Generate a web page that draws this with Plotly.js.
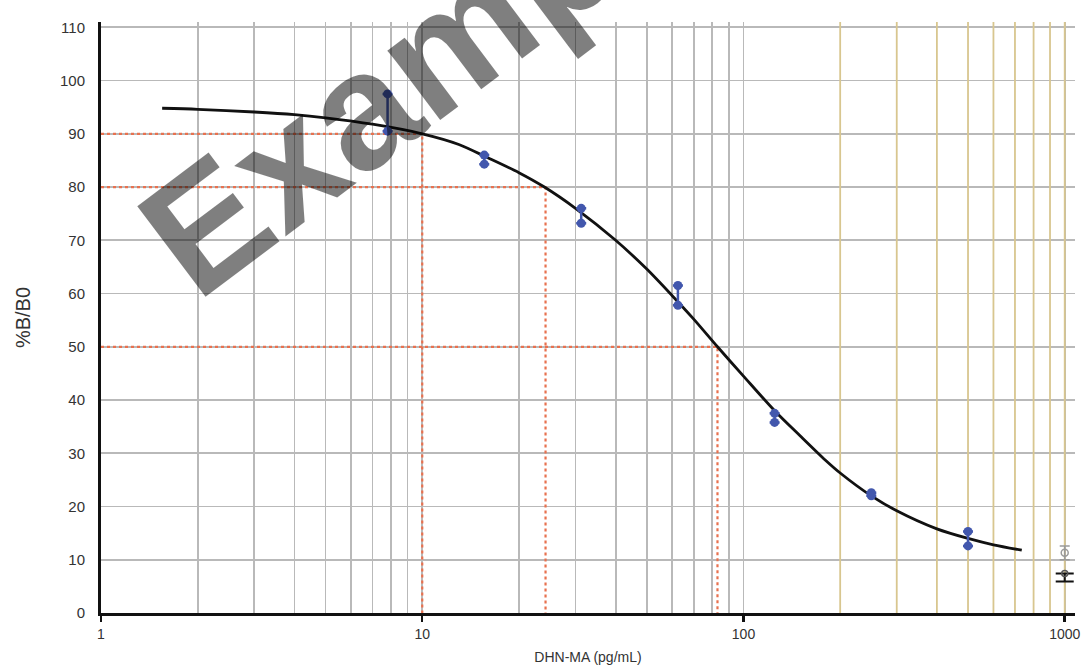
<!DOCTYPE html>
<html>
<head>
<meta charset="utf-8">
<script src="https://cdn.plot.ly/plotly-3.0.1.min.js"></script>
<style>html,body{margin:0;padding:0;background:#fff;}#chart{width:1091px;height:670px;}</style>
</head>
<body>
<div id="chart"></div>
<script>
// Standards (pg/mL) and replicate %B/B0 readings
const conc = [7.8, 15.6, 31.25, 62.5, 125, 250, 500];
const rep1 = [97.5, 86, 76, 61.5, 37.5, 22.6, 15.3];
const rep2 = [90.5, 84.3, 73.2, 57.8, 35.8, 22.0, 12.6];

// Fitted curve
const curveX = [1.55, 2, 3, 4, 5, 7, 10, 13, 16, 20, 24, 30, 40, 50, 60, 70, 83, 100, 125, 150, 180, 200, 250, 300, 400, 500, 600, 735];
const curveY = [94.8, 94.6, 94.1, 93.6, 93.0, 91.8, 90.0, 88.0, 85.5, 82.7, 80.0, 76.0, 70.0, 64.6, 59.6, 55.2, 50.0, 44.5, 38.0, 33.3, 28.7, 26.3, 22.0, 19.2, 15.8, 14.0, 12.8, 11.8];

// Reference levels (%B/B0) and their read concentrations
const refLevels = [90, 80, 50];
const refConc = [10, 24.2, 83];

// NSB / blank markers at the right edge
const nsbX = [1000];
const nsbGrayY = [11.3];
const nsbBlackY = [7.4];

// Axis ticks
const xTicks = [1, 10, 100, 1000];
const xTickText = ['1', '10', '100', '1000'];
const yTicks = [0, 10, 20, 30, 40, 50, 60, 70, 80, 90, 100, 110];

// grid positions
const decades = [1, 10, 100];
const minorGray = [];
const minorTan = [];
decades.forEach(d => { for (let k = 2; k <= 9; k++) { (d === 100 ? minorTan : minorGray).push(k * d); } });
minorTan.push(1000);

const traces = [];

// tan vertical grid for the upper decade
const tanX = [], tanY = [];
minorTan.forEach(v => { tanX.push(v, v, null); tanY.push(0, 111, null); });
traces.push({x: tanX, y: tanY, mode: 'lines', line: {color: '#d8c68f', width: 1.8}, hoverinfo: 'skip', showlegend: false});

// red dashed reference lines
refLevels.forEach((lv, i) => {
  traces.push({x: [1, refConc[i], refConc[i]], y: [lv, lv, 0], mode: 'lines',
    line: {color: '#e8714f', width: 2.2, dash: 'dot'}, hoverinfo: 'skip', showlegend: false});
});

// fitted curve
traces.push({x: curveX, y: curveY, mode: 'lines', line: {color: '#111111', width: 2.8, shape: 'spline', smoothing: 0.8}, showlegend: false});

// error bars (range of replicates)
const meanY = conc.map((c, i) => (rep1[i] + rep2[i]) / 2);
const halfR = conc.map((c, i) => Math.abs(rep1[i] - rep2[i]) / 2);
traces.push({x: conc, y: meanY, mode: 'markers', marker: {size: 1, color: 'rgba(0,0,0,0)'},
  error_y: {type: 'data', array: halfR, visible: true, color: '#4257ad', thickness: 2.5, width: 5}, showlegend: false});

// replicate points
[rep1, rep2].forEach(r => {
  traces.push({x: conc, y: r, mode: 'markers', marker: {size: 9, color: '#4257ad'}, showlegend: false});
});

// NSB markers
traces.push({x: nsbX, y: nsbGrayY, mode: 'markers',
  marker: {size: 7, symbol: 'circle-open', color: '#9a9a9a', line: {width: 1.5}},
  error_y: {type: 'data', array: [1.3], visible: true, color: '#9a9a9a', thickness: 1.5, width: 5}, showlegend: false});
traces.push({x: nsbX, y: nsbBlackY, mode: 'markers',
  marker: {size: 6, symbol: 'circle-open', color: '#555555', line: {width: 1.5}},
  error_y: {type: 'data', symmetric: false, array: [0], arrayminus: [1.5], visible: true, color: '#111111', thickness: 2, width: 9}, showlegend: false});

const fontFam = 'Liberation Sans, Arial, sans-serif';

const layout = {
  width: 1091, height: 670,
  margin: {l: 101, r: 16, t: 22, b: 57},
  paper_bgcolor: '#ffffff', plot_bgcolor: '#ffffff',
  showlegend: false,
  font: {family: fontFam, color: '#333333'},
  xaxis: {
    type: 'log', range: [0, 3.032],
    tickvals: xTicks, ticktext: xTickText,
    ticks: 'outside', ticklen: 6, tickwidth: 2.5, tickcolor: '#111',
    tickfont: {size: 14, color: '#333333', family: fontFam},
    showgrid: true, gridcolor: '#b9b9b9', gridwidth: 1.7,
    minor: {tickvals: minorGray, showgrid: true, gridcolor: '#b9b9b9', gridwidth: 1.7, ticks: ''},
    showline: true, linecolor: '#111111', linewidth: 3,
    zeroline: false,
    title: {text: 'DHN-MA (pg/mL)', font: {size: 14, color: '#333333', family: fontFam}, standoff: 12}
  },
  yaxis: {
    range: [0, 111],
    tickvals: yTicks,
    ticks: '', ticklabelstandoff: 10,
    tickfont: {size: 15, color: '#333333', family: fontFam},
    showgrid: true, gridcolor: '#b9b9b9', gridwidth: 1.7,
    showline: true, linecolor: '#111111', linewidth: 3,
    zeroline: false,
    title: {text: '%B/B0', font: {size: 20, color: '#333333', family: fontFam}, standoff: 24}
  },
  annotations: [{
    xref: 'paper', yref: 'paper', x: 0.341, y: 0.946,
    text: '<b>Example</b>', showarrow: false, textangle: -37,
    font: {size: 165, color: 'rgba(0,0,0,0.5)', family: fontFam},
    xanchor: 'center', yanchor: 'middle'
  }]
};

Plotly.newPlot('chart', traces, layout, {displayModeBar: false, staticPlot: true});
</script>
</body>
</html>
